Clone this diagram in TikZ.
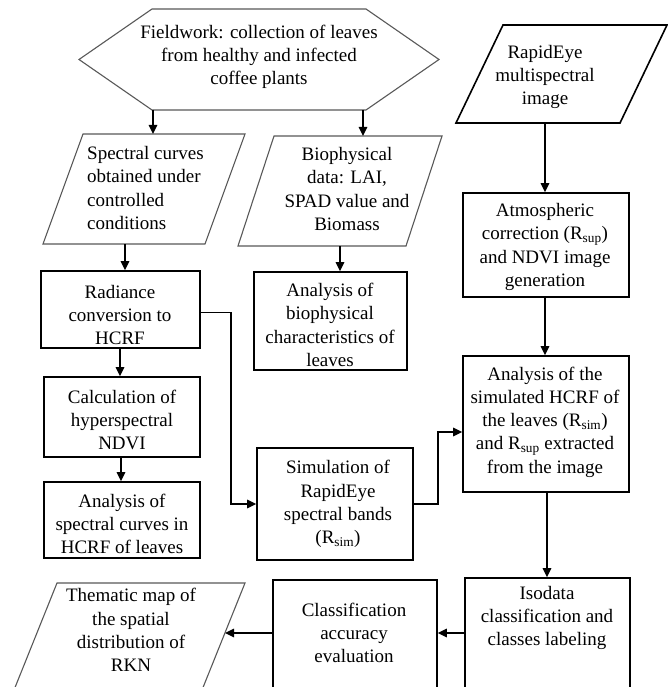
\documentclass[tikz,border=0pt]{standalone}
\usepackage{fontspec}
\setmainfont{Liberation Serif}
\usetikzlibrary{arrows.meta}
\begin{document}
\begin{tikzpicture}[x=1pt,y=-1pt,
  rbox/.style={draw=black, line width=1.6pt, inner sep=0pt, outer sep=0.8pt},
  ghost/.style={inner sep=0pt, outer sep=0pt},
  pline/.style={draw=black!65, line width=1.1pt, line join=miter},
  pbold/.style={draw=black, line width=1.6pt, line join=miter},
  txt/.style={inner sep=0pt, align=center, font=\fontsize{19}{23.3}\selectfont},
  arr/.style={line width=1.6pt, -{Triangle[length=9pt,width=8.5pt]}}]
\fill[white] (0,0) rectangle (668,687);
\useasboundingbox (0,0) rectangle (668,687);

% shapes
\node[ghost, minimum width=360, minimum height=101] (hex) at (259,59.5) {};
\draw[pline] (hex.west) -- ([xshift=73]hex.north west) -- ([xshift=-73]hex.north east) -- (hex.east) -- ([xshift=-73]hex.south east) -- ([xshift=73]hex.south west) -- cycle;
\node[txt] (hext) at (259,57) {Fieldwork: collection of leaves\\from healthy and infected\\coffee plants};

\node[ghost, minimum width=202, minimum height=110] (spec) at (144,189) {};
\draw[pline] ([xshift=40]spec.north west) -- (spec.north east) -- ([xshift=-40]spec.south east) -- (spec.south west) -- cycle;
\node[txt, align=left, anchor=west] (spect) at (87,188) {Spectral curves\\obtained under\\controlled\\conditions};

\node[ghost, minimum width=204, minimum height=110] (bio) at (340,191) {};
\draw[pline] ([xshift=36]bio.north west) -- (bio.north east) -- ([xshift=-36]bio.south east) -- (bio.south west) -- cycle;
\node[txt] (biot) at (347,189) {Biophysical\\data: LAI,\\SPAD value and\\Biomass};

\node[ghost, minimum width=211, minimum height=98] (rapid) at (561.5,74) {};
\draw[pbold] ([xshift=47]rapid.north west) -- (rapid.north east) -- ([xshift=-47]rapid.south east) -- (rapid.south west) -- cycle;
\node[txt] (rapidt) at (545,77) {RapidEye\\multispectral\\image};

\node[ghost, minimum width=233, minimum height=112] (them) at (128.5,639) {};
\draw[pline] ([xshift=45]them.north west) -- (them.north east) -- ([xshift=-45]them.south east) -- (them.south west) -- cycle;
\node[txt] (themt) at (131,630) {Thematic map of\\the spatial\\distribution of\\RKN};

\node[rbox, minimum width=159, minimum height=77] (rad) at (120.5,309.5) {};
\node[txt] (radt) at (120,315) {Radiance\\conversion to\\HCRF};

\node[rbox, minimum width=156, minimum height=80] (calc) at (122,417) {};
\node[txt] (calct) at (122,420) {Calculation of\\hyperspectral\\NDVI};

\node[rbox, minimum width=156, minimum height=76] (anas) at (122,520) {};
\node[txt] (anast) at (122,524) {Analysis of\\spectral curves in\\HCRF of leaves};

\node[rbox, minimum width=153, minimum height=98] (anab) at (330.5,321) {};
\node[txt] (anabt) at (330,325) {Analysis of\\biophysical\\characteristics of\\leaves};

\node[rbox, minimum width=156, minimum height=112] (sim) at (335,504) {};
\node[txt] (simt) at (338,504) {Simulation of\\RapidEye\\spectral bands\\(R\textsubscript{sim})};

\node[rbox, minimum width=166, minimum height=104] (atm) at (546,245) {};
\node[txt] (atmt) at (545,247) {Atmospheric\\correction (R\textsubscript{sup})\\and NDVI image\\generation};

\node[rbox, minimum width=166, minimum height=136] (hcrf) at (546,424) {};
\node[txt] (hcrft) at (545,422) {Analysis of the\\simulated HCRF of\\the leaves (R\textsubscript{sim})\\and R\textsubscript{sup} extracted\\from the image};

\node[rbox, minimum width=165, minimum height=122] (iso) at (547.5,639) {};
\node[txt] (isot) at (547,618) {Isodata\\classification and\\classes labeling};

\node[rbox, minimum width=164, minimum height=120] (cls) at (355,640) {};
\node[txt] (clst) at (354,633) {Classification\\accuracy\\evaluation};

% helper coordinates
\coordinate (xa) at (153,0);
\coordinate (xb) at (363,0);
\coordinate (xc) at (125,0);
\coordinate (xd) at (340,0);
\coordinate (xe) at (120,0);
\coordinate (xf) at (121,0);
\coordinate (xg) at (231,0);
\coordinate (xh) at (438,0);
\coordinate (xr) at (545,0);
\coordinate (xs) at (547,0);
\coordinate (yb) at (0,633);
\coordinate (hin) at ([yshift=-8pt]hcrf.west);
\coordinate (themin) at (225,633);

% connectors
\draw[arr] (hex.south -| xa) -- (spec.north -| xa);
\draw[arr] (hex.south -| xb) -- (bio.north -| xb);
\draw[arr] (spec.south -| xc) -- (rad.north -| xc);
\draw[arr] (bio.south -| xd) -- (anab.north -| xd);
\draw[arr] (rad.south -| xe) -- (calc.north -| xe);
\draw[arr] (calc.south -| xf) -- (anas.north -| xf);
\draw[arr] ([yshift=-3pt]rad.east) -- ([yshift=-3pt]rad.east -| xg) -- (sim.west -| xg) -- (sim.west);
\draw[arr] (sim.east) -- (sim.east -| xh) -- (hin -| xh) -- (hin);
\draw[arr] (rapid.south -| xr) -- (atm.north -| xr);
\draw[arr] (atm.south -| xr) -- (hcrf.north -| xr);
\draw[arr] (hcrf.south -| xs) -- (iso.north -| xs);
\draw[arr] (iso.west |- yb) -- (cls.east |- yb);
\draw[arr] (cls.west |- yb) -- (themin);
\end{tikzpicture}
\end{document}
